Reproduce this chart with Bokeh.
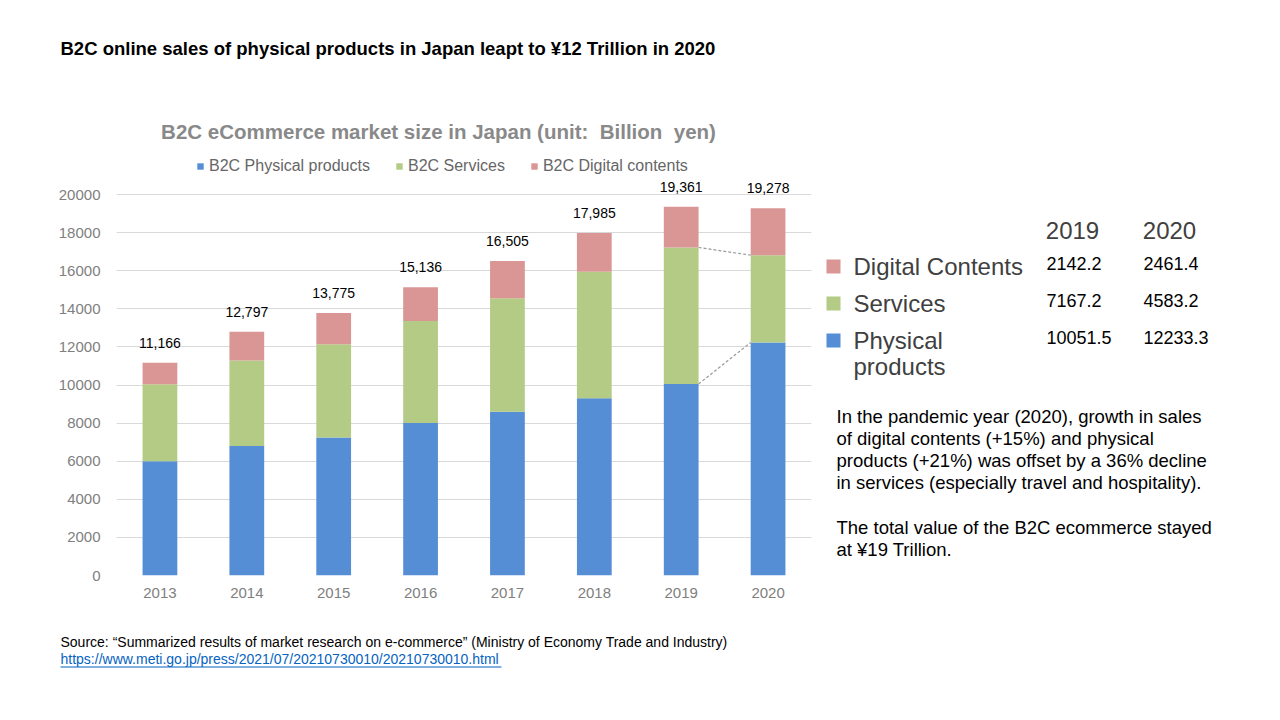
from bokeh.plotting import figure
from bokeh.layouts import column, row
from bokeh.models import (ColumnDataSource, Range1d, FixedTicker, Label, LabelSet,
                          Legend, LegendItem, BoxAnnotation)
from bokeh.core.properties import value
from bokeh.embed import file_html
from bokeh.resources import INLINE

# ---------------- data ----------------
years = ["2013", "2014", "2015", "2016", "2017", "2018", "2019", "2020"]
physical = [5993.1, 6804.2, 7239.8, 8004.3, 8600.8, 9299.2, 10051.5, 12233.3]
services = [4040.0, 4481.6, 4901.4, 5353.2, 5956.8, 6647.1, 7167.2, 4583.2]
digital = [1132.9, 1511.1, 1633.4, 1778.2, 1947.8, 2038.2, 2142.2, 2461.4]
total_labels = ["11,166", "12,797", "13,775", "15,136", "16,505", "17,985", "19,361", "19,278"]
series_names = ["B2C Physical products", "B2C Services", "B2C Digital contents"]
y_ticks = [0, 2000, 4000, 6000, 8000, 10000, 12000, 14000, 16000, 18000, 20000]

COLORS = ["#558ED5", "#B3CB85", "#D99694"]
FONT = "Liberation Sans"

W, H = 1264, 704
TOP_H, MID_H = 100, 520
BOT_H = H - TOP_H - MID_H
CHART_W = 820


def text_fig(w, h):
    f = figure(width=w, height=h, output_backend="svg", toolbar_location=None,
               x_range=Range1d(0, 1), y_range=Range1d(0, 1),
               x_axis_type=None, y_axis_type=None, min_border=0)
    f.outline_line_color = None
    f.background_fill_color = "white"
    f.border_fill_color = "white"
    return f


def add_text(f, ox, oy, txt, X, Y, size, color="#000000", bold=False, align="left"):
    """(ox, oy): page position of the bottom-left corner of f's frame."""
    f.add_layout(Label(x=X - ox, y=oy - Y, x_units="screen", y_units="screen",
                       text=txt, text_font=FONT, text_font_size=f"{size}px",
                       text_color=color, text_align=align, text_baseline="middle",
                       text_font_style="bold" if bold else "normal"))


def add_box(f, ox, oy, X0, Y0, X1, Y1, color):
    f.add_layout(BoxAnnotation(left=X0 - ox, right=X1 - ox, top=oy - Y0, bottom=oy - Y1,
                               left_units="screen", right_units="screen",
                               top_units="screen", bottom_units="screen",
                               fill_color=color, fill_alpha=1, line_color=None))


# ---------------- main chart ----------------
FRAME_L, FRAME_R, FRAME_T0, FRAME_B = 116, 811, 194, 575   # page px of y=0..20000 area
px_per_unit = (FRAME_B - FRAME_T0) / 20000.0
y_end = (FRAME_B - TOP_H) / px_per_unit

xs = list(range(len(years)))
tops = [a + b + c for a, b, c in zip(physical, services, digital)]
src = ColumnDataSource(dict(x=xs, phys=physical, serv=services, dig=digital,
                            top=tops, lab=total_labels))

p = figure(width=CHART_W, height=MID_H, output_backend="svg", toolbar_location=None,
           x_range=Range1d(-0.5, len(years) - 0.5), y_range=Range1d(0, y_end),
           min_border_left=FRAME_L, min_border_right=CHART_W - FRAME_R,
           min_border_top=0, min_border_bottom=TOP_H + MID_H - FRAME_B)
p.outline_line_color = None
p.background_fill_color = "white"
p.border_fill_color = "white"

renderers = p.vbar_stack(["phys", "serv", "dig"], x="x", width=0.4, color=COLORS,
                         source=src, line_width=0)

# dashed connector lines between 2019 and 2020
i19, i20 = years.index("2019"), years.index("2020")
p.segment(x0=[i19 + 0.2, i19 + 0.2],
          y0=[physical[i19], physical[i19] + services[i19]],
          x1=[i20 - 0.2, i20 - 0.2],
          y1=[physical[i20], physical[i20] + services[i20]],
          line_color="#9a9a9a", line_width=1.2, line_dash="3 2")

p.xgrid.visible = False
p.ygrid.grid_line_color = "#d9d9d9"
p.ygrid.grid_line_width = 1
p.yaxis.ticker = FixedTicker(ticks=y_ticks)
p.xaxis.ticker = FixedTicker(ticks=xs)
p.xaxis.major_label_overrides = {i: y for i, y in enumerate(years)}
for ax in (p.xaxis[0], p.yaxis[0]):
    ax.axis_line_color = None
    ax.major_tick_line_color = None
    ax.minor_tick_line_color = None
    ax.major_label_text_font = FONT
    ax.major_label_text_font_size = "15px"
    ax.major_label_text_color = "#808080"
p.yaxis.major_label_standoff = 10
p.xaxis.major_label_standoff = 6

p.add_layout(LabelSet(x="x", y="top", text="lab", source=src, y_offset=20,
                      text_align="center", text_baseline="middle",
                      text_font=value(FONT), text_font_size=value("14px"),
                      text_color="#000000"))

legend = Legend(items=[LegendItem(label=n, renderers=[r]) for n, r in zip(series_names, renderers)],
                orientation="horizontal", location=(80, 400),
                border_line_color=None, background_fill_alpha=0,
                padding=0, margin=0, spacing=25, label_standoff=5,
                glyph_width=8, glyph_height=8,
                label_text_font=FONT, label_text_font_size="16px",
                label_text_color="#666666")
p.add_layout(legend, "center")

add_text(p, FRAME_L, FRAME_B, "B2C eCommerce market size in Japan (unit:\u00a0 Billion\u00a0 yen)",
         438, 131, 20.5, color="#898989", bold=True, align="center")

# ---------------- title strip ----------------
top = text_fig(W, TOP_H)
add_text(top, 0, TOP_H,
         "B2C online sales of physical products in Japan leapt to ¥12 Trillion in 2020",
         60, 48, 18.5, bold=True)

# ---------------- right-hand panel ----------------
side = text_fig(W - CHART_W, MID_H)
# the row aligns this panel's frame with the chart frame (bottom at FRAME_B)
SX, SY = CHART_W, FRAME_B
add_text(side, SX, SY, years[i19], 1072, 230, 24, color="#404040", align="center")
add_text(side, SX, SY, years[i20], 1169, 230, 24, color="#404040", align="center")
table_rows = [("Digital Contents", digital, COLORS[2], 266),
              ("Services", services, COLORS[1], 303),
              ("Physical", physical, COLORS[0], 340)]
for name, vals, col, yy in table_rows:
    add_box(side, SX, SY, 826, yy - 7, 840, yy + 7, col)
    add_text(side, SX, SY, name, 853, yy, 24, color="#404040")
    add_text(side, SX, SY, f"{vals[i19]:.1f}", 1046, yy - 3, 18)
    add_text(side, SX, SY, f"{vals[i20]:.1f}", 1143, yy - 3, 18)
add_text(side, SX, SY, "products", 853, 366, 24, color="#404040")

para = ["In the pandemic year (2020), growth in sales",
        "of digital contents (+15%) and physical",
        "products (+21%) was offset by a 36% decline",
        "in services (especially travel and hospitality)."]
for k, line in enumerate(para):
    add_text(side, SX, SY, line, 836, 415.5 + 22.2 * k, 18.5)
add_text(side, SX, SY, "The total value of the B2C ecommerce stayed", 836, 526.5, 18.5)
add_text(side, SX, SY, "at ¥19 Trillion.", 836, 549, 18.5)

# ---------------- source strip ----------------
bot = text_fig(W, BOT_H)
BY = H
add_text(bot, 0, BY, "Source: \u201cSummarized results of market research on e-commerce\u201d "
         "(Ministry of Economy Trade and Industry)", 60, 641, 14)
add_text(bot, 0, BY, "https://www.meti.go.jp/press/2021/07/20210730010/20210730010.html",
         60, 658, 14, color="#0563C1")
add_box(bot, 0, BY, 60, 666, 501, 667, "#0563C1")

layout = column(top, row(p, side, spacing=0), bot, spacing=0)
open("out.html", "w").write(file_html(layout, INLINE))
